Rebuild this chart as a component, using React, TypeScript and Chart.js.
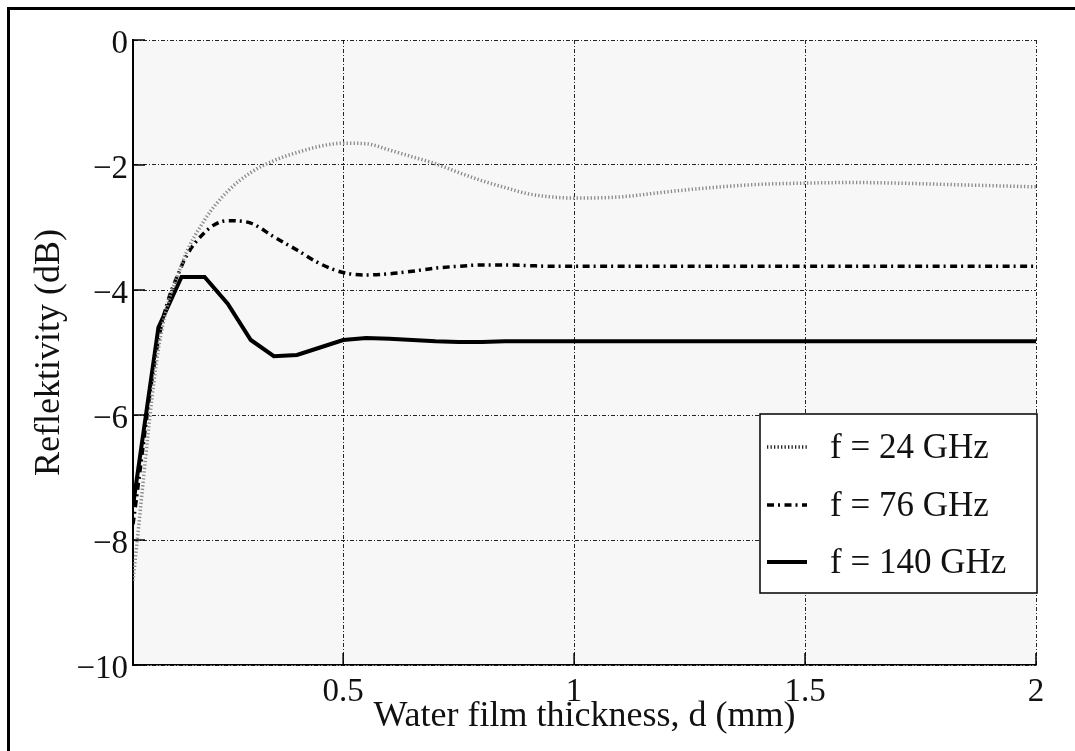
import React, { useEffect, useRef } from "react";
import { Chart, registerables } from "chart.js";

Chart.register(...registerables);

const thickness = [0.045, 0.1, 0.15, 0.2, 0.25, 0.3, 0.35, 0.4, 0.45, 0.5, 0.55, 0.6, 0.65, 0.7, 0.75, 0.8, 0.85, 0.9, 0.95, 1.0, 1.1, 1.2, 1.3, 1.4, 1.5, 1.6, 1.7, 1.8, 1.9, 2.0];
const refl24 = [-8.65, -4.95, -3.6, -2.88, -2.42, -2.12, -1.93, -1.8, -1.7, -1.65, -1.66, -1.76, -1.87, -1.98, -2.12, -2.25, -2.36, -2.46, -2.51, -2.53, -2.51, -2.43, -2.36, -2.31, -2.29, -2.28, -2.29, -2.31, -2.33, -2.35];
const refl76 = [-7.75, -4.8, -3.62, -3.08, -2.89, -2.93, -3.15, -3.36, -3.58, -3.72, -3.76, -3.74, -3.7, -3.65, -3.62, -3.6, -3.6, -3.61, -3.62, -3.62, -3.62, -3.62, -3.62, -3.62, -3.62, -3.62, -3.62, -3.62, -3.62, -3.62];
const refl140 = [-7.45, -4.6, -3.79, -3.79, -4.22, -4.8, -5.06, -5.04, -4.92, -4.8, -4.77, -4.78, -4.8, -4.82, -4.83, -4.83, -4.82, -4.82, -4.82, -4.82, -4.82, -4.82, -4.82, -4.82, -4.82, -4.82, -4.82, -4.82, -4.82, -4.82];
const seriesLabels = ["f = 24 GHz", "f = 76 GHz", "f = 140 GHz"];
const xTickValues = [0.5, 1, 1.5, 2];
const yTickValues = [-10, -8, -6, -4, -2, 0];

const FONT = '"Liberation Serif", "Times New Roman", serif';

const toPoints = (ys: number[]) => ys.map((y, i) => ({ x: thickness[i], y }));

const bgPlugin = {
  id: "bgPlugin",
  beforeDraw(chart: any) {
    const { ctx, chartArea } = chart;
    ctx.save();
    ctx.fillStyle = "#ffffff";
    ctx.fillRect(0, 0, chart.width, chart.height);
    ctx.fillStyle = "#f7f7f7";
    ctx.fillRect(chartArea.left, chartArea.top, chartArea.right - chartArea.left, chartArea.bottom - chartArea.top);
    ctx.restore();
  },
};

const innerTicksPlugin = {
  id: "innerTicks",
  beforeDatasetsDraw(chart: any) {
    const { ctx, chartArea, scales } = chart;
    ctx.save();
    ctx.strokeStyle = "#000";
    ctx.lineWidth = 1.5;
    ctx.setLineDash([]);
    yTickValues.forEach((v) => {
      const y = scales.y.getPixelForValue(v);
      ctx.beginPath();
      ctx.moveTo(chartArea.left, y);
      ctx.lineTo(chartArea.left + 12, y);
      ctx.stroke();
    });
    xTickValues.forEach((v) => {
      const x = scales.x.getPixelForValue(v);
      ctx.beginPath();
      ctx.moveTo(x, chartArea.bottom);
      ctx.lineTo(x, chartArea.bottom - 12);
      ctx.stroke();
    });
    ctx.restore();
  },
};

const legendPlugin = {
  id: "boxLegend",
  afterDraw(chart: any) {
    const { ctx, chartArea } = chart;
    const right = chartArea.right + 1;
    const left = right - 277;
    const top = 414;
    const height = 179;
    ctx.save();
    ctx.fillStyle = "#ffffff";
    ctx.fillRect(left, top, right - left, height);
    ctx.strokeStyle = "#000";
    ctx.lineWidth = 1.5;
    ctx.setLineDash([]);
    ctx.strokeRect(left, top, right - left, height);
    const rows = [33, 91, 148];
    chart.data.datasets.forEach((ds: any, i: number) => {
      const y = top + rows[i];
      ctx.save();
      ctx.strokeStyle = i === 0 ? "#222" : ds.borderColor;
      ctx.lineWidth = ds.borderWidth;
      ctx.setLineDash(ds.borderDash || []);
      ctx.beginPath();
      ctx.moveTo(left + 7, y);
      ctx.lineTo(left + 47, y);
      ctx.stroke();
      ctx.restore();
      ctx.fillStyle = "#111";
      ctx.font = `35px ${FONT}`;
      ctx.textBaseline = "middle";
      ctx.textAlign = "left";
      ctx.fillText(ds.label, left + 70, y + 2);
    });
    ctx.restore();
  },
};

const framePlugin = {
  id: "frame",
  afterDraw(chart: any) {
    const { ctx } = chart;
    ctx.save();
    ctx.strokeStyle = "#000";
    ctx.lineWidth = 3;
    ctx.setLineDash([]);
    ctx.beginPath();
    ctx.moveTo(8.5, chart.height + 5);
    ctx.lineTo(8.5, 8.5);
    ctx.lineTo(chart.width + 5, 8.5);
    ctx.stroke();
    ctx.restore();
  },
};

export default function App() {
  const canvasRef = useRef<HTMLCanvasElement | null>(null);

  useEffect(() => {
    if (!canvasRef.current) return;
    const gridDash = [4, 2, 1, 2];
    const chart = new Chart(canvasRef.current, {
      type: "line",
      data: {
        datasets: [
          {
            label: seriesLabels[0],
            data: toPoints(refl24),
            borderColor: "#8a8a8a",
            borderWidth: 3.5,
            borderDash: [1.3, 2.2],
            pointRadius: 0,
            fill: false,
            cubicInterpolationMode: "monotone",
          },
          {
            label: seriesLabels[1],
            data: toPoints(refl76),
            borderColor: "#000",
            borderWidth: 3.5,
            borderDash: [7, 4, 2, 4.5],
            pointRadius: 0,
            fill: false,
            cubicInterpolationMode: "monotone",
          },
          {
            label: seriesLabels[2],
            data: toPoints(refl140),
            borderColor: "#000",
            borderWidth: 4,
            pointRadius: 0,
            fill: false,
            tension: 0,
          },
        ],
      },
      options: {
        animation: false,
        responsive: false,
        devicePixelRatio: 1,
        layout: { padding: { left: 0, top: 40, right: 39, bottom: 0 } },
        plugins: { legend: { display: false }, tooltip: { enabled: false } },
        scales: {
          x: {
            type: "linear",
            min: 0.045,
            max: 2,
            afterBuildTicks: (scale: any) => {
              scale.ticks = xTickValues.map((v) => ({ value: v }));
            },
            afterFit: (scale: any) => {
              scale.height = 86;
            },
            ticks: {
              color: "#111",
              font: { family: FONT, size: 33 },
              padding: 8,
              maxRotation: 0,
              autoSkip: false,
              callback: (v: any) => String(v),
            },
            grid: { color: "rgba(0,0,0,0.85)", lineWidth: 1, drawTicks: false },
            border: { display: true, color: "#000", width: 1.5, dash: gridDash },
            title: {
              display: true,
              text: "Water film thickness, d (mm)",
              color: "#111",
              font: { family: FONT, size: 36 },
              padding: { top: 0, bottom: 13 },
            },
          },
          y: {
            type: "linear",
            min: -10,
            max: 0,
            afterBuildTicks: (scale: any) => {
              scale.ticks = yTickValues.map((v) => ({ value: v }));
            },
            afterFit: (scale: any) => {
              scale.width = 133;
            },
            ticks: {
              color: "#111",
              font: { family: FONT, size: 33 },
              padding: 5,
              labelOffset: 4,
              callback: (v: any) => (Number(v) < 0 ? "\u2212" + Math.abs(Number(v)) : String(v)),
            },
            grid: { color: "rgba(0,0,0,0.85)", lineWidth: 1, drawTicks: false },
            border: { display: true, color: "#000", width: 2, dash: gridDash },
            title: {
              display: true,
              text: "Reflektivity (dB)",
              color: "#111",
              font: { family: FONT, size: 36 },
              padding: { top: 28, bottom: 0 },
            },
          },
        },
      },
      plugins: [bgPlugin, innerTicksPlugin, legendPlugin, framePlugin],
    } as any);
    return () => chart.destroy();
  }, []);

  return (
    <div style={{ position: "absolute", left: 0, top: 0, width: 1075, height: 751, overflow: "hidden", background: "#fff" }}>
      <canvas ref={canvasRef} width={1075} height={751} style={{ display: "block" }} />
    </div>
  );
}
